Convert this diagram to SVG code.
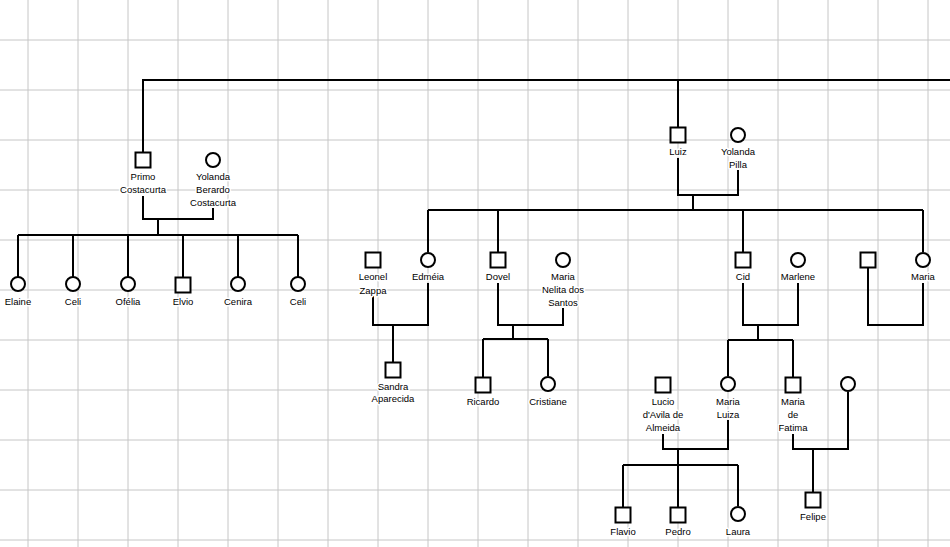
<svg xmlns="http://www.w3.org/2000/svg" width="950" height="547" viewBox="0 0 950 547">
<style>
.grid line{stroke:#c6c6c6;stroke-width:1}
.c path{fill:none;stroke:#000;stroke-width:2}
.m rect,.f circle{fill:#fff;stroke:#000;stroke-width:2}
text{font-family:"Liberation Sans",Arial,sans-serif;font-size:9.5px;fill:#000;text-anchor:middle;stroke:#fff;stroke-width:3;paint-order:stroke;stroke-linejoin:round}
</style>
<rect width="950" height="547" fill="#fff"/>
<g class="grid">
<line x1="28" y1="0" x2="28" y2="547"/><line x1="78" y1="0" x2="78" y2="547"/><line x1="128" y1="0" x2="128" y2="547"/><line x1="178" y1="0" x2="178" y2="547"/><line x1="228" y1="0" x2="228" y2="547"/><line x1="278" y1="0" x2="278" y2="547"/><line x1="328" y1="0" x2="328" y2="547"/><line x1="378" y1="0" x2="378" y2="547"/><line x1="428" y1="0" x2="428" y2="547"/><line x1="478" y1="0" x2="478" y2="547"/><line x1="528" y1="0" x2="528" y2="547"/><line x1="578" y1="0" x2="578" y2="547"/><line x1="628" y1="0" x2="628" y2="547"/><line x1="678" y1="0" x2="678" y2="547"/><line x1="728" y1="0" x2="728" y2="547"/><line x1="778" y1="0" x2="778" y2="547"/><line x1="828" y1="0" x2="828" y2="547"/><line x1="878" y1="0" x2="878" y2="547"/><line x1="928" y1="0" x2="928" y2="547"/>
<line x1="0" y1="40" x2="950" y2="40"/><line x1="0" y1="90" x2="950" y2="90"/><line x1="0" y1="140" x2="950" y2="140"/><line x1="0" y1="190" x2="950" y2="190"/><line x1="0" y1="240" x2="950" y2="240"/><line x1="0" y1="290" x2="950" y2="290"/><line x1="0" y1="340" x2="950" y2="340"/><line x1="0" y1="390" x2="950" y2="390"/><line x1="0" y1="440" x2="950" y2="440"/><line x1="0" y1="490" x2="950" y2="490"/><line x1="0" y1="540" x2="950" y2="540"/>
</g>
<g id="connectors" class="c">
<path d="M143,152 V80 H950 M678,80 V127"/>
<path d="M143,196 V219 H213 V208 M158,219 V235 M18,235 H298 M18,235 V277 M73,235 V277 M128,235 V277 M183,235 V277 M238,235 V277 M298,235 V277"/>
<path d="M678,158 V195 H738 V170 M693,195 V210 M428,210 H923 M428,210 V252 M498,210 V252 M743,210 V252 M923,210 V252"/>
<path d="M373,296 V325 H428 V283 M393,325 V362"/>
<path d="M498,283 V325 H563 V308 M513,325 V339 M483,339 H548 M483,339 V377 M548,339 V376"/>
<path d="M743,283 V325 H798 V283 M758,325 V340 M728,340 H793 M728,340 V376 M793,340 V377"/>
<path d="M868,268 V325 H923 V283"/>
<path d="M663,434 V449 H728 V420 M678,449 V507 M623,465 H738 M623,465 V507 M738,465 V506"/>
<path d="M793,434 V449 H848 V392 M813,449 V492"/>
</g>
<g id="primo" class="m"><rect x="135.5" y="152.5" width="15" height="15"/><text x="143" y="180">Primo</text><text x="143" y="193">Costacurta</text></g>
<g id="yolanda-berardo" class="f"><circle cx="213" cy="160" r="7"/><text x="213" y="180">Yolanda</text><text x="213" y="193">Berardo</text><text x="213" y="206">Costacurta</text></g>
<g id="elaine" class="f"><circle cx="18" cy="284" r="7"/><text x="18" y="305">Elaine</text></g>
<g id="celi1" class="f"><circle cx="73" cy="284" r="7"/><text x="73" y="305">Celi</text></g>
<g id="ofelia" class="f"><circle cx="128" cy="284" r="7"/><text x="128" y="305">Ofélia</text></g>
<g id="elvio" class="m"><rect x="175.5" y="277.5" width="15" height="15"/><text x="183" y="305">Elvio</text></g>
<g id="cenira" class="f"><circle cx="238" cy="284" r="7"/><text x="238" y="305">Cenira</text></g>
<g id="celi2" class="f"><circle cx="298" cy="284" r="7"/><text x="298" y="305">Celi</text></g>
<g id="luiz" class="m"><rect x="670.5" y="127.5" width="15" height="15"/><text x="678" y="155">Luiz</text></g>
<g id="yolanda-pilla" class="f"><circle cx="738" cy="135" r="7"/><text x="738" y="155">Yolanda</text><text x="738" y="168">Pilla</text></g>
<g id="leonel" class="m"><rect x="365.5" y="252.5" width="15" height="15"/><text x="373" y="280">Leonel</text><text x="373" y="294">Zappa</text></g>
<g id="edmeia" class="f"><circle cx="428" cy="260" r="7"/><text x="428" y="280">Edméia</text></g>
<g id="dovel" class="m"><rect x="490.5" y="252.5" width="15" height="15"/><text x="498" y="280">Dovel</text></g>
<g id="maria-nelita" class="f"><circle cx="563" cy="260" r="7"/><text x="563" y="280">Maria</text><text x="563" y="293">Nelita dos</text><text x="563" y="306">Santos</text></g>
<g id="cid" class="m"><rect x="735.5" y="252.5" width="15" height="15"/><text x="743" y="280">Cid</text></g>
<g id="marlene" class="f"><circle cx="798" cy="260" r="7"/><text x="798" y="280">Marlene</text></g>
<g id="husband-maria" class="m"><rect x="860.5" y="252.5" width="15" height="15"/></g>
<g id="maria" class="f"><circle cx="923" cy="260" r="7"/><text x="923" y="280">Maria</text></g>
<g id="sandra" class="m"><rect x="385.5" y="362.5" width="15" height="15"/><text x="393" y="390">Sandra</text><text x="393" y="402">Aparecida</text></g>
<g id="ricardo" class="m"><rect x="475.5" y="377.5" width="15" height="15"/><text x="483" y="405">Ricardo</text></g>
<g id="cristiane" class="f"><circle cx="548" cy="384" r="7"/><text x="548" y="405">Cristiane</text></g>
<g id="lucio" class="m"><rect x="655.5" y="377.5" width="15" height="15"/><text x="663" y="405">Lucio</text><text x="663" y="418">d'Avila de</text><text x="663" y="431">Almeida</text></g>
<g id="maria-luiza" class="f"><circle cx="728" cy="384" r="7"/><text x="728" y="405">Maria</text><text x="728" y="418">Luiza</text></g>
<g id="maria-fatima" class="m"><rect x="785.5" y="377.5" width="15" height="15"/><text x="793" y="405">Maria</text><text x="793" y="418">de</text><text x="793" y="431">Fatima</text></g>
<g id="wife-fatima" class="f"><circle cx="848" cy="384" r="7"/></g>
<g id="flavio" class="m"><rect x="615.5" y="507.5" width="15" height="15"/><text x="623" y="535">Flavio</text></g>
<g id="pedro" class="m"><rect x="670.5" y="507.5" width="15" height="15"/><text x="678" y="535">Pedro</text></g>
<g id="laura" class="f"><circle cx="738" cy="514" r="7"/><text x="738" y="535">Laura</text></g>
<g id="felipe" class="m"><rect x="805.5" y="492.5" width="15" height="15"/><text x="813" y="520">Felipe</text></g>
</svg>
